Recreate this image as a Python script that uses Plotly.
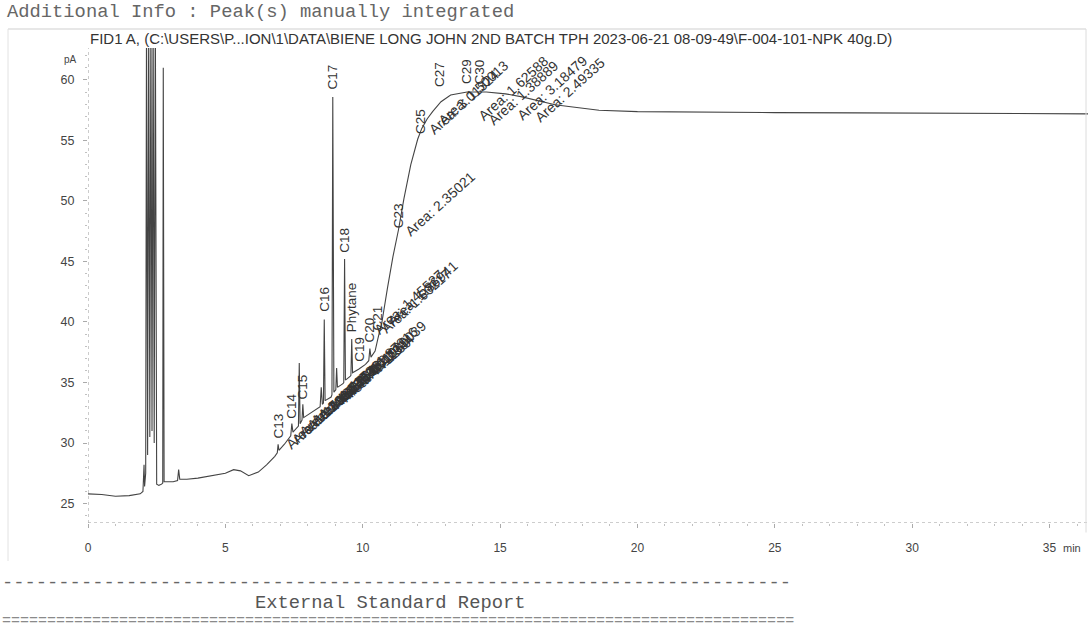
import plotly.graph_objects as go

# FID1 A signal: retention time (min) and detector response (pA)
time_min = [
    0.00, 0.50, 1.00, 1.50, 1.90, 2.00, 2.04, 2.06,
    2.10, 2.13, 2.17, 2.21, 2.25, 2.29, 2.33, 2.37, 2.41, 2.45, 2.50,
    2.58, 2.68, 2.72, 2.74, 2.77, 2.90, 3.10, 3.26, 3.30, 3.34, 3.60,
    4.00, 4.50, 5.00, 5.30, 5.55, 5.85, 6.20, 6.50, 6.80,
    6.89, 6.92, 6.95, 7.15, 7.38, 7.42, 7.46, 7.60, 7.66, 7.69, 7.72,
    7.79, 7.82, 7.85, 8.05, 8.30, 8.45, 8.49, 8.53, 8.57, 8.60, 8.63,
    8.85, 8.88, 8.91, 8.95, 9.02, 9.05, 9.08, 9.28, 9.31, 9.34, 9.37,
    9.54, 9.57, 9.60, 9.63, 9.85, 10.10, 10.22, 10.26, 10.30, 10.45,
    10.55, 10.70, 10.90, 11.10, 11.30, 11.50, 11.75, 12.00, 12.15,
    12.35, 12.55, 12.85, 13.20, 13.80, 14.50, 15.20, 15.80, 16.40,
    17.00, 17.50, 18.60, 20.00, 22.00, 25.00, 28.00, 31.00, 34.00, 36.40,
]
signal_pa = [
    25.80, 25.75, 25.60, 25.65, 25.80, 26.00, 28.20, 26.40,
    27.50, 66.00, 29.00, 66.00, 30.50, 66.00, 31.00, 66.00, 30.00, 66.00, 26.60,
    26.50, 26.60, 26.70, 61.00, 26.80, 26.80, 26.80, 26.90, 27.80, 27.00, 27.00,
    27.10, 27.30, 27.50, 27.80, 27.70, 27.30, 27.60, 28.20, 28.90,
    29.20, 29.90, 29.40, 29.90, 30.60, 31.60, 30.90, 31.20, 31.40, 36.60, 31.60,
    31.90, 33.20, 32.10, 32.40, 32.80, 33.00, 34.60, 33.20, 33.30, 40.20, 33.50,
    33.80, 34.00, 58.60, 34.20, 34.40, 36.20, 34.60, 34.90, 35.00, 45.20, 35.20,
    35.50, 35.60, 38.60, 35.80, 36.10, 36.50, 36.80, 37.80, 37.10, 37.60,
    38.60, 40.00, 42.80, 45.40, 47.60, 50.20, 53.00, 55.10, 56.00,
    56.80, 57.40, 58.20, 58.75, 59.00, 59.00, 58.85, 58.60, 58.30,
    57.95, 57.80, 57.50, 57.38, 57.33, 57.30, 57.28, 57.25, 57.22, 57.20,
]

# Peak names, their retention times and the response where each name sits
peak_names = ["C13", "C14", "C15", "C16", "C17", "C18", "Phytane", "C19", "C20",
              "C21", "C23", "C25", "C27", "C29", "C30"]
peak_time = [6.92, 7.42, 7.82, 8.60, 8.91, 9.34, 9.60, 9.85, 10.26,
             10.55, 11.30, 12.10, 12.80, 13.80, 14.25]
peak_label_pa = [30.0, 31.7, 33.3, 40.5, 58.9, 45.4, 38.8, 36.4, 38.0,
                 39.0, 47.4, 55.2, 59.1, 59.3, 59.3]

# Manually integrated area labels: start time, start response, text
area_time = [6.98, 7.20, 7.48, 7.74, 7.90, 8.15, 8.52, 8.68, 8.98, 9.12,
             9.25, 9.55, 10.20, 10.45, 10.70, 11.32, 12.20, 12.52, 14.00, 14.35,
             15.40, 16.05]
area_pa = [29.0, 29.4, 30.1, 30.6, 31.0, 31.5, 32.1, 32.4, 32.9, 33.2,
           33.8, 34.3, 38.5, 38.6, 39.2, 46.6, 55.0, 55.8, 56.2, 55.8, 56.2, 56.0]
area_text = ["Area: 1.17362", "Area: 1.20845", "Area: 1.48130", "Area: 1.93257",
             "Area: 1.31706", "Area: 1.55482", "Area: 1.26619", "Area: 2.08473",
             "Area: 4.71250", "Area: 1.12984", "Area: 1.87316", "Area: 1.39039",
             "Area: 1.45527", "Area: 1.60217", "Area: 1.86941", "Area: 2.35021",
             "Area: 3.01324", "Area: 1.50013", "Area: 1.62588", "Area: 1.38889",
             "Area: 3.18479", "Area: 2.49335"]

y_ticks = [25, 30, 35, 40, 45, 50, 55, 60]
x_ticks = [0, 5, 10, 15, 20, 25, 30, 35]

X_RANGE = [0.0, 36.4]
Y_RANGE = [23.39, 62.64]
INK = "#333333"
SANS = "Liberation Sans, Arial, sans-serif"
MONO = "Liberation Mono, Courier New, monospace"

fig = go.Figure()
fig.add_trace(go.Scatter(
    x=time_min, y=signal_pa, mode="lines",
    line=dict(color="#444444", width=1.1),
    hoverinfo="skip", showlegend=False,
))

annotations = []
for name, t, v in zip(peak_names, peak_time, peak_label_pa):
    annotations.append(dict(
        x=t, y=v, xref="x", yref="y", text=name, showarrow=False,
        textangle=-90, xanchor="center", yanchor="bottom", yshift=2,
        font=dict(family=SANS, size=13.5, color=INK),
    ))
for t, v, txt in zip(area_time, area_pa, area_text):
    annotations.append(dict(
        x=t, y=v, xref="x", yref="y", text=txt, showarrow=False,
        textangle=-42, xanchor="left", yanchor="bottom",
        font=dict(family=SANS, size=14, color=INK),
    ))

# Report header, units and footer text
annotations += [
    dict(x=-0.083, y=1.076, xref="paper", yref="paper", xanchor="left", yanchor="middle",
         text="Additional Info : Peak(s) manually integrated", showarrow=False,
         font=dict(family=MONO, size=18.8, color="#666666")),
    dict(x=0.0, y=1.021, xref="paper", yref="paper", xanchor="left", yanchor="middle",
         text="FID1 A, (C:\\USERS\\P...ION\\1\\DATA\\BIENE LONG JOHN 2ND BATCH TPH 2023-06-21 08-09-49\\F-004-101-NPK 40g.D)",
         showarrow=False, font=dict(family=SANS, size=15, color="#333333")),
    dict(x=-0.018, y=0.975, xref="paper", yref="paper", xanchor="center", yanchor="middle",
         text="pA", showarrow=False, font=dict(family=SANS, size=10, color="#444444")),
    dict(x=0.984, y=-0.053, xref="paper", yref="paper", xanchor="center", yanchor="middle",
         text="min", showarrow=False, font=dict(family=SANS, size=11, color="#444444")),
    dict(x=-0.088, y=-0.126, xref="paper", yref="paper", xanchor="left", yanchor="middle",
         text="-" * 70, showarrow=False, font=dict(family=MONO, size=18.8, color="#666666")),
    dict(x=0.302, y=-0.168, xref="paper", yref="paper", xanchor="center", yanchor="middle",
         text="External Standard Report", showarrow=False,
         font=dict(family=MONO, size=18.8, color="#555555")),
    dict(x=-0.088, y=-0.208, xref="paper", yref="paper", xanchor="left", yanchor="middle",
         text="=" * 88, showarrow=False, font=dict(family=MONO, size=15, color="#8a8a8a")),
]

shapes = [
    # dotted axis lines
    dict(type="line", xref="x", yref="y", x0=0, x1=0, y0=Y_RANGE[0], y1=Y_RANGE[1],
         line=dict(color="#9a9a9a", width=1, dash="dot")),
    dict(type="line", xref="x", yref="y", x0=X_RANGE[0], x1=X_RANGE[1], y0=Y_RANGE[0], y1=Y_RANGE[0],
         line=dict(color="#9a9a9a", width=1, dash="dot")),
    # faint report frame
    dict(type="line", xref="paper", yref="paper", x0=-0.08, x1=0.998, y0=1.04, y1=1.04,
         line=dict(color="#cfcfcf", width=1)),
    dict(type="line", xref="paper", yref="paper", x0=-0.08, x1=-0.08, y0=1.04, y1=-0.08,
         line=dict(color="#e2e2e2", width=1)),
    dict(type="line", xref="paper", yref="paper", x0=0.998, x1=0.998, y0=1.04, y1=-0.02,
         line=dict(color="#dcdcdc", width=1)),
]

fig.update_layout(
    width=1090, height=632,
    margin=dict(l=88, r=2, t=48, b=109),
    paper_bgcolor="white", plot_bgcolor="white",
    annotations=annotations, shapes=shapes,
    showlegend=False,
)
fig.update_xaxes(
    range=X_RANGE, tickvals=x_ticks, ticktext=[str(v) for v in x_ticks],
    showgrid=False, zeroline=False, showline=False,
    ticks="outside", ticklen=4, tickcolor="#aaaaaa", ticklabelstandoff=10,
    minor=dict(dtick=1, ticks="outside", ticklen=2, tickcolor="#c0c0c0", showgrid=False),
    tickfont=dict(family=SANS, size=12, color="#444444"),
)
fig.update_yaxes(
    range=Y_RANGE, tickvals=y_ticks, ticktext=[str(v) for v in y_ticks],
    showgrid=False, zeroline=False, showline=False,
    ticks="outside", ticklen=4, tickcolor="#aaaaaa", ticklabelstandoff=6,
    minor=dict(dtick=1, ticks="outside", ticklen=2, tickcolor="#c0c0c0", showgrid=False),
    tickfont=dict(family=SANS, size=12.5, color="#444444"),
)

fig.write_html("out.html")
